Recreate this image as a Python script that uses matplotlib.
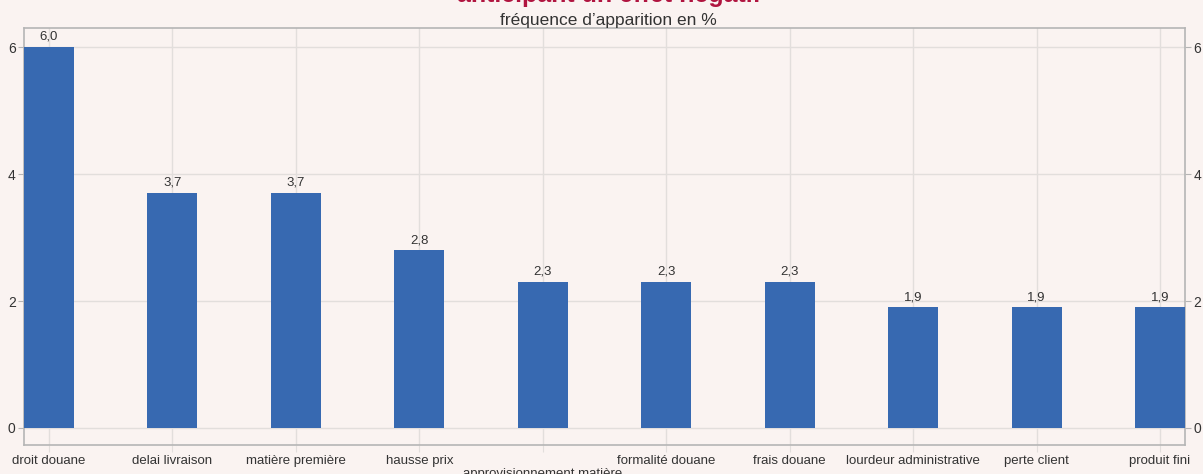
import numpy as np
import matplotlib
matplotlib.use('agg')
import matplotlib.pyplot as plt

categories = ['droit douane', 'delai livraison', 'matière première', 'hausse prix',
              'approvisionnement matière', 'formalité douane', 'frais douane',
              'lourdeur administrative', 'perte client', 'produit fini']
values = [6.0, 3.7, 3.7, 2.8, 2.3, 2.3, 2.3, 1.9, 1.9, 1.9]
y_ticks = [0, 2, 4, 6]

bg = '#faf3f1'
bar_color = '#3769b1'
grid_color = '#e2dedc'
spine_color = '#b5b5b5'
text_color = '#333333'

plt.rcParams['font.family'] = ['Liberation Sans', 'DejaVu Sans']

fig = plt.figure(figsize=(12.03, 4.74), dpi=100, facecolor=bg)
ax = fig.add_axes([24 / 1203, 1 - 445 / 474, (1185 - 24) / 1203, (445 - 28) / 474])
ax.set_facecolor(bg)

x = np.arange(len(categories))
ax.bar(x, values, width=0.405, color=bar_color, zorder=3)
for xi, v in zip(x, values):
    ax.annotate(f'{v:.1f}'.replace('.', ','), (xi, v), xytext=(0, 3), textcoords='offset points',
                ha='center', va='bottom', fontsize=9.5, color=text_color, zorder=4)

ax.set_xlim(-0.2025, len(categories) - 1 + 0.2025)
ax.set_ylim(-0.268, 6.30)

# the long label sits one row lower, like in the source chart
labels = [('\n' + c) if c.startswith('approvisionnement') else c for c in categories]
ax.set_xticks(x)
ax.set_xticklabels(labels, fontsize=9.5, color=text_color, linespacing=1.1)
ax.set_yticks(y_ticks)
ax.set_yticklabels([str(t) for t in y_ticks], fontsize=10, color=text_color)
ax.tick_params(axis='x', length=5, color=grid_color, pad=2)
ax.tick_params(axis='y', length=4, color=spine_color, pad=2, right=True, labelright=True)

ax.grid(True, color=grid_color, linewidth=1, zorder=0)
for s in ax.spines.values():
    s.set_color(spine_color)
    s.set_linewidth(1.2)

fig.text(0.506, 1 - 2 / 474, 'anticipant un effet négatif', ha='center', va='baseline',
         fontsize=18, fontweight='bold', color='#b0143f')
fig.text(0.506, 1 - 25 / 474, 'fréquence d\u2019apparition en %', ha='center', va='baseline',
         fontsize=12.5, color=text_color)

plt.savefig('out.png', dpi=100, facecolor=bg)
